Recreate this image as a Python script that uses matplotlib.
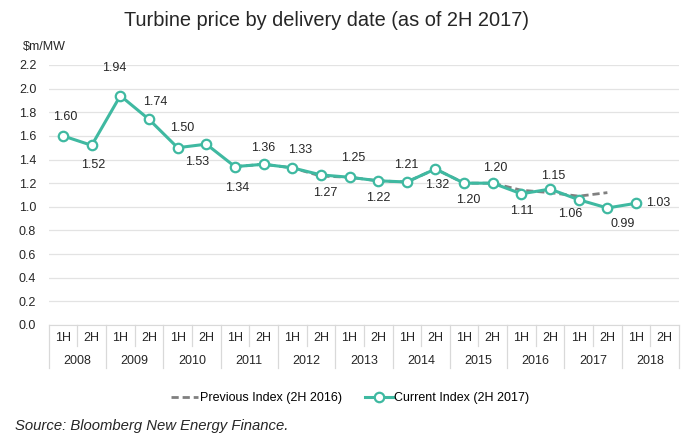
import numpy as np
import matplotlib.pyplot as plt
import matplotlib.transforms as mtransforms

plt.rcParams['font.family'] = ['Liberation Sans', 'DejaVu Sans']

years = ['2008', '2009', '2010', '2011', '2012', '2013', '2014', '2015', '2016', '2017', '2018']
halves = ['1H', '2H']
current = [1.60, 1.52, 1.94, 1.74, 1.50, 1.53, 1.34, 1.36, 1.33, 1.27, 1.25, 1.22,
           1.21, 1.32, 1.20, 1.20, 1.11, 1.15, 1.06, 0.99, 1.03, np.nan]
# previous index, mostly hidden under the current one
previous = [np.nan, np.nan, np.nan, np.nan, np.nan, np.nan, 1.34, 1.36, 1.33, 1.26, 1.25, 1.22,
            1.21, 1.32, 1.20, 1.20, 1.14, 1.12, 1.09, 1.12, np.nan, np.nan]
# data label offsets in pixels (dx, dy)
label_offsets = [(2, 19), (1, -20), (-6, 28), (6, 17), (5, 20), (-9, -18), (2, -21), (0, 16),
                 (8, 18), (4, -18), (4, 19), (0, -17), (-1, 17), (2, -16), (4, -17), (2, 15),
                 (0, -17), (3, 13), (-8, -14), (15, -16), (22, 0)]

teal = '#3fb9a1'
grey = '#808080'
txt = '#262626'

fig = plt.figure(figsize=(7, 4.37), dpi=100)
ax = fig.add_axes([0.0696, 0.2563, 0.9004, 0.595])

x = np.arange(len(current))
ax.plot(x, previous, color=grey, lw=2, ls=(0, (2.6, 1.4)), label='Previous Index (2H 2016)', zorder=2)
ax.plot(x, current, color=teal, lw=2.2, marker='o', ms=6.8, mfc='white', mec=teal, mew=1.6,
        label='Current Index (2H 2017)', zorder=3)

for i, (dx, dy) in enumerate(label_offsets):
    ax.annotate(f'{current[i]:.2f}', (x[i], current[i]), xytext=(dx, dy), textcoords='offset pixels',
                ha='center', va='center', fontsize=9, color=txt)

ax.set_xlim(-0.5, len(current) - 0.5)
ax.set_ylim(0, 2.2)
ticks = np.arange(0, 2.21, 0.2)
ax.set_yticks(ticks)
ax.set_yticklabels([f'{v:.1f}' for v in ticks], fontsize=9, color=txt)
ax.grid(axis='y', color='#e3e3e3', lw=0.9)
ax.set_axisbelow(True)
for s in ['top', 'right', 'left']:
    ax.spines[s].set_visible(False)
ax.spines['bottom'].set_color('#d9d9d9')
ax.tick_params(axis='y', length=0, pad=9)
ax.set_xticks([])

# two-level category axis
trans = mtransforms.blended_transform_factory(ax.transData, ax.transAxes)
for i in range(len(current)):
    ax.text(x[i], -0.05, halves[i % 2], transform=trans, ha='center', va='center', fontsize=9, color=txt)
for j, yr in enumerate(years):
    ax.text(2 * j + 0.5, -0.138, yr, transform=trans, ha='center', va='center', fontsize=9, color=txt)
for k in range(len(current) + 1):
    bottom = -0.081 if k % 2 else -0.165
    ax.plot([k - 0.5, k - 0.5], [0, bottom], transform=trans, color='#d9d9d9', lw=0.9, clip_on=False)

fig.text(0.467, 0.954, 'Turbine price by delivery date (as of 2H 2017)', ha='center', va='center',
         fontsize=14.4, color=txt)
fig.text(0.033, 0.892, '$m/MW', ha='left', va='center', fontsize=9, color=txt)
fig.legend(loc='center', bbox_to_anchor=(0.5, 0.089), ncol=2, frameon=False, fontsize=9,
           handlelength=2.2, columnspacing=1.9, handletextpad=0.1)
fig.text(0.021, 0.025, 'Source: Bloomberg New Energy Finance.', ha='left', va='center', fontsize=10.7,
         style='italic', color=txt)

fig.savefig('out.png', dpi=100)
